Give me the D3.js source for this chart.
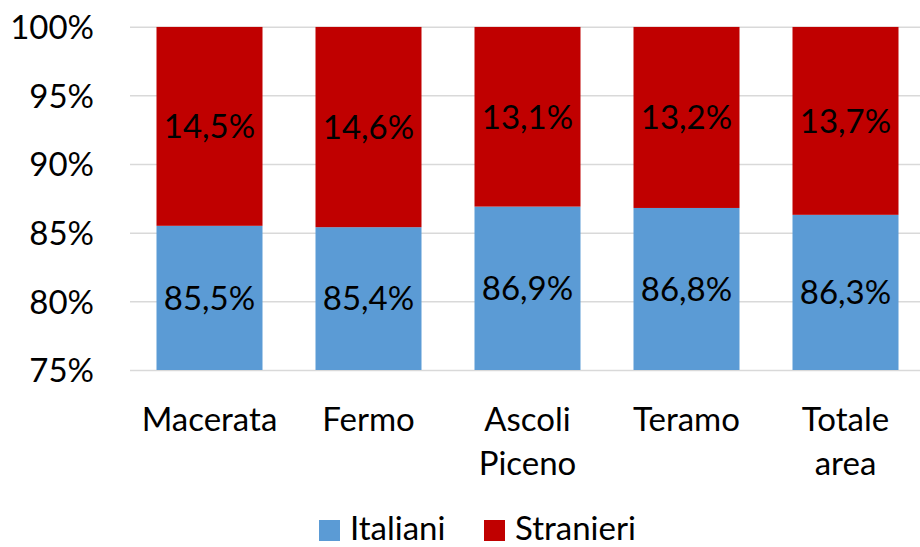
<!DOCTYPE html>
<html>
<head>
<meta charset="utf-8">
<script src="https://cdn.jsdelivr.net/npm/d3@7"></script>
<style>
  body { margin: 0; background: #fff; }
  svg text { font-family: Lato, "Open Sans", sans-serif; fill: #000; }
  .axis .domain { display: none; }
  .axis line { stroke: #d9d9d9; stroke-width: 1.5; }
</style>
</head>
<body>
<svg id="chart" width="920" height="547"></svg>
<script>
const categories = ["Macerata", "Fermo", "Ascoli Piceno", "Teramo", "Totale area"];
const italiani = [85.5, 85.4, 86.9, 86.8, 86.3];
const stranieri = [14.5, 14.6, 13.1, 13.2, 13.7];
const yTicks = [75, 80, 85, 90, 95, 100];
const seriesNames = ["Italiani", "Stranieri"];
const seriesColors = ["#5b9bd5", "#c00000"];

const fontSize = 33;
const plot = { left: 130, right: 925, top: 26.7, bottom: 370 };

const svg = d3.select("#chart");
const it = d3.formatLocale({ decimal: ",", thousands: ".", grouping: [3], currency: ["", "€"] });
const fmt = (v) => it.format(".1f")(v) + "%";

const x = d3.scaleBand()
  .domain(categories)
  .range([plot.left, plot.right])
  .paddingInner(1 / 3)
  .paddingOuter(1 / 6);

const y = d3.scaleLinear()
  .domain([75, 100])
  .range([plot.bottom, plot.top]);

// gridlines + tick labels
const yAxis = d3.axisLeft(y)
  .tickValues(yTicks)
  .tickSize(-(plot.right - plot.left))
  .tickPadding(36)
  .tickFormat((d) => d + "%");

svg.append("g")
  .attr("class", "axis")
  .attr("transform", `translate(${plot.left},0)`)
  .call(yAxis)
  .call((g) => g.selectAll("text")
    .style("font-size", fontSize + "px")
    .attr("dy", "0.36em"));

// stacked data
const rows = categories.map((c, i) => ({ cat: c, Italiani: italiani[i], Stranieri: stranieri[i] }));
const stack = d3.stack().keys(seriesNames)(rows);

svg.append("clipPath").attr("id", "plotclip")
  .append("rect")
  .attr("x", 0).attr("y", plot.top)
  .attr("width", 920).attr("height", plot.bottom - plot.top);

const layers = svg.append("g").attr("clip-path", "url(#plotclip)")
  .selectAll("g.layer")
  .data(stack)
  .join("g")
  .attr("class", "layer")
  .attr("fill", (d, i) => seriesColors[i]);

layers.selectAll("rect")
  .data((d) => d)
  .join("rect")
  .attr("x", (d) => x(d.data.cat))
  .attr("width", x.bandwidth())
  .attr("y", (d) => y(d[1]))
  .attr("height", (d) => y(d[0]) - y(d[1]));

// data labels
const labels = svg.append("g");
stack.forEach((layer) => {
  labels.selectAll(null)
    .data(layer)
    .join("text")
    .attr("x", (d) => x(d.data.cat) + x.bandwidth() / 2)
    .attr("y", (d) => (y(Math.max(d[0], 75)) + y(d[1])) / 2)
    .attr("dy", "0.36em")
    .attr("text-anchor", "middle")
    .style("font-size", fontSize + "px")
    .text((d) => fmt(d.data[layer.key]));
});

// category labels, wrapped on spaces
const catG = svg.append("g");
categories.forEach((c) => {
  const t = catG.append("text")
    .attr("text-anchor", "middle")
    .style("font-size", fontSize + "px");
  c.split(" ").forEach((w, j) => {
    t.append("tspan")
      .attr("x", x(c) + x.bandwidth() / 2)
      .attr("y", 431 + j * 44)
      .text(w);
  });
});

// legend
const legendX = [319, 484];
const legend = svg.append("g");
seriesNames.forEach((name, i) => {
  legend.append("rect")
    .attr("x", legendX[i]).attr("y", 520)
    .attr("width", 21).attr("height", 21)
    .attr("fill", seriesColors[i]);
  legend.append("text")
    .attr("x", legendX[i] + 31)
    .attr("y", 540)
    .style("font-size", fontSize + "px")
    .text(name);
});
</script>
</body>
</html>
